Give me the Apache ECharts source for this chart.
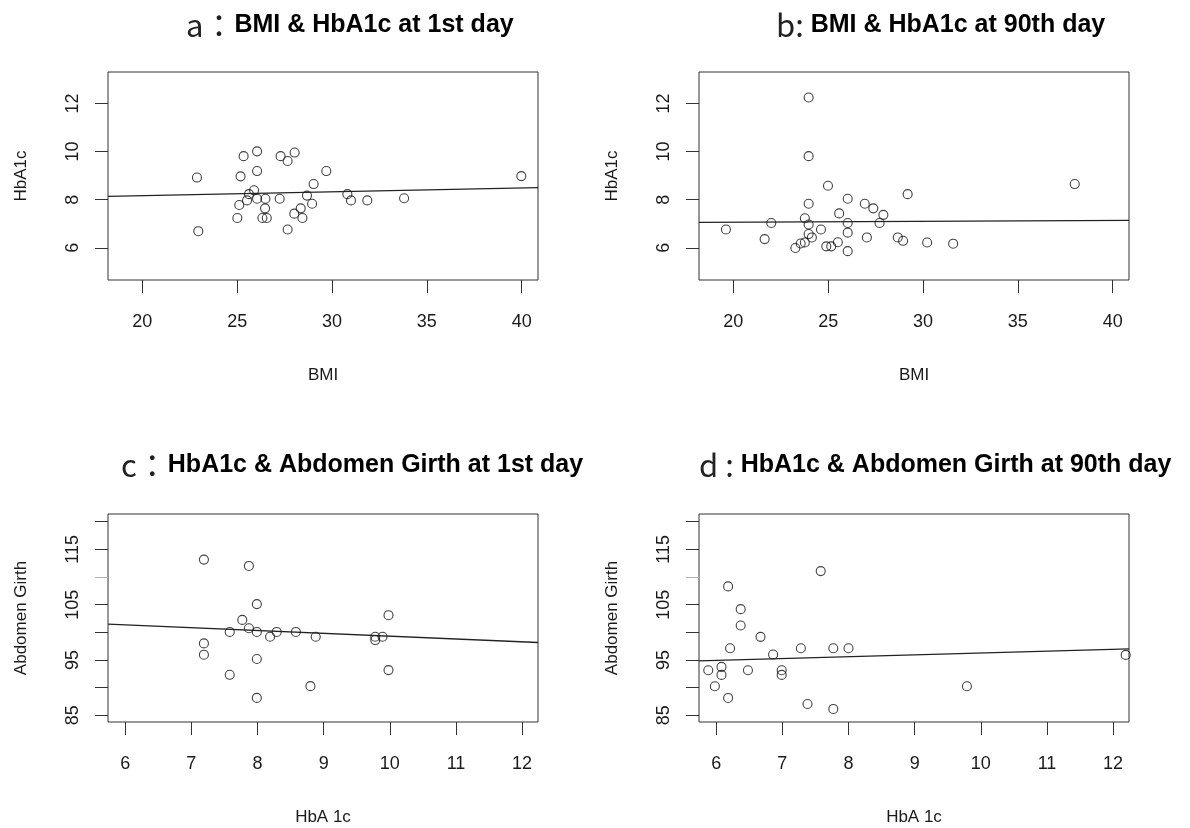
<!DOCTYPE html>
<html>
<head>
<meta charset="utf-8">
<script src="https://cdn.jsdelivr.net/npm/echarts@6/dist/echarts.min.js"></script>
<style>
  html, body { margin: 0; padding: 0; background: #fff; }
  #main { width: 1190px; height: 828px; }
</style>
</head>
<body>
<div id="main"></div>
<script>
// a : BMI & HbA1c at 1st day
const bmiDay1 = [22.88, 22.95, 25.34, 26.05, 27.29, 28.03, 27.66, 26.05, 25.18, 29.70, 29.03,
  39.98, 25.89, 25.62, 25.52, 26.05, 26.49, 27.24, 28.68, 30.81, 31.00, 31.86, 33.80,
  25.11, 26.47, 28.95, 28.35, 28.01, 25.01, 26.33, 26.56, 28.44, 27.66];
const hbaDay1 = [8.92, 6.69, 9.81, 10.01, 9.81, 9.96, 9.61, 9.19, 8.97, 9.19, 8.65,
  8.98, 8.39, 8.23, 7.97, 8.04, 8.04, 8.04, 8.17, 8.23, 7.97, 7.97, 8.06,
  7.78, 7.64, 7.83, 7.64, 7.42, 7.24, 7.24, 7.24, 7.24, 6.76];
const fitA = [[18.19, 8.14], [40.86, 8.50]];

// b : BMI & HbA1c at 90th day
const bmiDay90 = [23.97, 23.97, 24.99, 38.0, 29.19, 26.03, 23.97, 26.93, 27.38, 25.58, 27.91,
  23.77, 22.0, 23.97, 26.03, 27.71, 19.61, 24.62, 23.97, 26.03, 24.14, 21.65, 27.04,
  28.67, 28.95, 23.77, 23.55, 25.51, 30.22, 31.59, 23.27, 24.90, 25.16, 26.03];
const hbaDay90 = [12.25, 9.81, 8.58, 8.65, 8.23, 8.04, 7.83, 7.83, 7.64, 7.43, 7.37,
  7.23, 7.03, 6.97, 7.03, 7.03, 6.76, 6.76, 6.57, 6.63, 6.43, 6.36, 6.43,
  6.43, 6.29, 6.22, 6.18, 6.23, 6.22, 6.17, 5.99, 6.06, 6.06, 5.86];
const fitB = [[18.19, 7.06], [40.86, 7.14]];

// c : HbA1c & Abdomen Girth at 1st day
const hbaGirth1 = [7.19, 7.87, 7.99, 9.98, 7.77, 7.87, 7.58, 7.99, 8.29, 8.58, 8.19,
  8.88, 9.78, 9.89, 9.78, 7.19, 7.19, 7.99, 9.98, 7.58, 8.80, 7.99];
const girthDay1 = [113.15, 112.0, 105.1, 103.1, 102.25, 100.74, 100.07, 100.07, 100.07, 100.07, 99.2,
  99.2, 99.2, 99.2, 98.6, 98.0, 95.96, 95.17, 93.17, 92.32, 90.27, 88.15];
const fitC = [[5.74, 101.48], [12.24, 98.16]];

// d : HbA1c & Abdomen Girth at 90th day
const hbaGirth90 = [7.58, 6.18, 6.37, 6.37, 6.67, 6.21, 7.28, 7.77, 8.00, 6.86, 12.19,
  5.88, 6.08, 6.08, 6.48, 6.99, 6.99, 5.98, 9.79, 6.18, 7.38, 7.77];
const girthDay90 = [111.07, 108.3, 104.19, 101.23, 99.18, 97.13, 97.13, 97.13, 97.13, 95.98, 95.92,
  93.15, 93.75, 92.3, 93.15, 93.15, 92.3, 90.25, 90.25, 88.14, 87.05, 86.15];
const fitD = [[5.74, 94.84], [12.24, 97.0]];

const bmiTicks = [20, 25, 30, 35, 40];
const hbaTicks = [6, 8, 10, 12];
const hbaXTicks = [6, 7, 8, 9, 10, 11, 12];
const girthTicks = [85, 90, 95, 100, 105, 115, 120];
const girthFaintTick = [110];   // this tick is printed lighter in the original
const girthLabels = [85, 95, 105, 115];

const FONT = 'Liberation Sans, Arial, sans-serif';
const INK = '#1a1a1a';

function pairs(xs, ys) {
  return xs.map((x, i) => [x, ys[i]]);
}

function xAxisOf(gridIndex, min, max, ticks, name) {
  return {
    gridIndex, type: 'value', min, max,
    axisLine: {show: false},
    splitLine: {show: false},
    axisTick: {show: true, inside: false, length: 13, customValues: ticks, lineStyle: {color: '#333'}},
    axisLabel: {customValues: ticks, margin: 33, fontSize: 18, fontFamily: FONT, color: INK},
    name, nameLocation: 'middle', nameGap: 87,
    nameTextStyle: {fontSize: 17, fontFamily: FONT, color: INK}
  };
}

function yAxisOf(gridIndex, min, max, ticks, labels, name) {
  return {
    gridIndex, type: 'value', min, max, position: 'left',
    axisLine: {show: false},
    splitLine: {show: false},
    axisTick: {show: true, inside: false, length: 13, customValues: ticks, lineStyle: {color: '#333'}},
    axisLabel: {customValues: labels, rotate: 90, margin: 26, fontSize: 18, fontFamily: FONT, color: INK},
    name, nameLocation: 'middle', nameGap: 78, nameRotate: 90,
    nameTextStyle: {fontSize: 17, fontFamily: FONT, color: INK}
  };
}

function faintAxis(gridIndex, min, max) {
  return {
    gridIndex, type: 'value', min, max, position: 'left',
    axisLine: {show: false},
    splitLine: {show: false},
    axisLabel: {show: false},
    axisTick: {show: true, inside: false, length: 13, customValues: girthFaintTick, lineStyle: {color: '#b0b0b0'}}
  };
}

function dots(i, data) {
  return {
    type: 'scatter', xAxisIndex: i, yAxisIndex: i, data,
    symbol: 'circle', symbolSize: 9,
    itemStyle: {color: 'rgba(0,0,0,0)', borderColor: '#111', borderWidth: 1.1}
  };
}

function fit(i, data) {
  return {
    type: 'line', xAxisIndex: i, yAxisIndex: i, data,
    showSymbol: false, symbol: 'none', clip: true,
    lineStyle: {color: '#222', width: 1.3}
  };
}

function heading(left, top, letter, text) {
  return {
    left, top,
    text: '{p|' + letter + '}{t|' + text + '}',
    textStyle: {
      rich: {
        p: {fontFamily: 'Noto Sans CJK JP', fontWeight: 'normal', fontSize: 31, color: '#222'},
        t: {fontFamily: FONT, fontWeight: 'bold', fontSize: 25, color: '#000'}
      }
    }
  };
}

const chart = echarts.init(document.getElementById('main'));
chart.setOption({
  animation: false,
  backgroundColor: '#fff',
  title: [
    heading(181, 5, 'a：', 'BMI & HbA1c at 1st day'),
    heading(771, 5, 'b: ', 'BMI & HbA1c at 90th day'),
    heading(116, 445, 'c：', 'HbA1c & Abdomen Girth at 1st day'),
    heading(694, 445, 'd : ', 'HbA1c & Abdomen Girth at 90th day')
  ],
  grid: [
    {left: 108, top: 72, width: 430, height: 208},
    {left: 699, top: 72, width: 430, height: 208},
    {left: 108, top: 514, width: 430, height: 208},
    {left: 699, top: 514, width: 430, height: 208}
  ].map(g => Object.assign(g, {show: true, borderColor: '#333', borderWidth: 1, backgroundColor: 'transparent'})),
  xAxis: [
    xAxisOf(0, 18.19, 40.86, bmiTicks, 'BMI'),
    xAxisOf(1, 18.19, 40.86, bmiTicks, 'BMI'),
    xAxisOf(2, 5.74, 12.24, hbaXTicks, 'HbA 1c'),
    xAxisOf(3, 5.74, 12.24, hbaXTicks, 'HbA 1c')
  ],
  yAxis: [
    yAxisOf(0, 4.66, 13.31, hbaTicks, hbaTicks, 'HbA1c'),
    yAxisOf(1, 4.66, 13.31, hbaTicks, hbaTicks, 'HbA1c'),
    yAxisOf(2, 83.79, 121.39, girthTicks, girthLabels, 'Abdomen Girth'),
    yAxisOf(3, 83.79, 121.39, girthTicks, girthLabels, 'Abdomen Girth'),
    faintAxis(2, 83.79, 121.39),
    faintAxis(3, 83.79, 121.39)
  ],
  series: [
    dots(0, pairs(bmiDay1, hbaDay1)), fit(0, fitA),
    dots(1, pairs(bmiDay90, hbaDay90)), fit(1, fitB),
    dots(2, pairs(hbaGirth1, girthDay1)), fit(2, fitC),
    dots(3, pairs(hbaGirth90, girthDay90)), fit(3, fitD)
  ]
});
</script>
</body>
</html>
